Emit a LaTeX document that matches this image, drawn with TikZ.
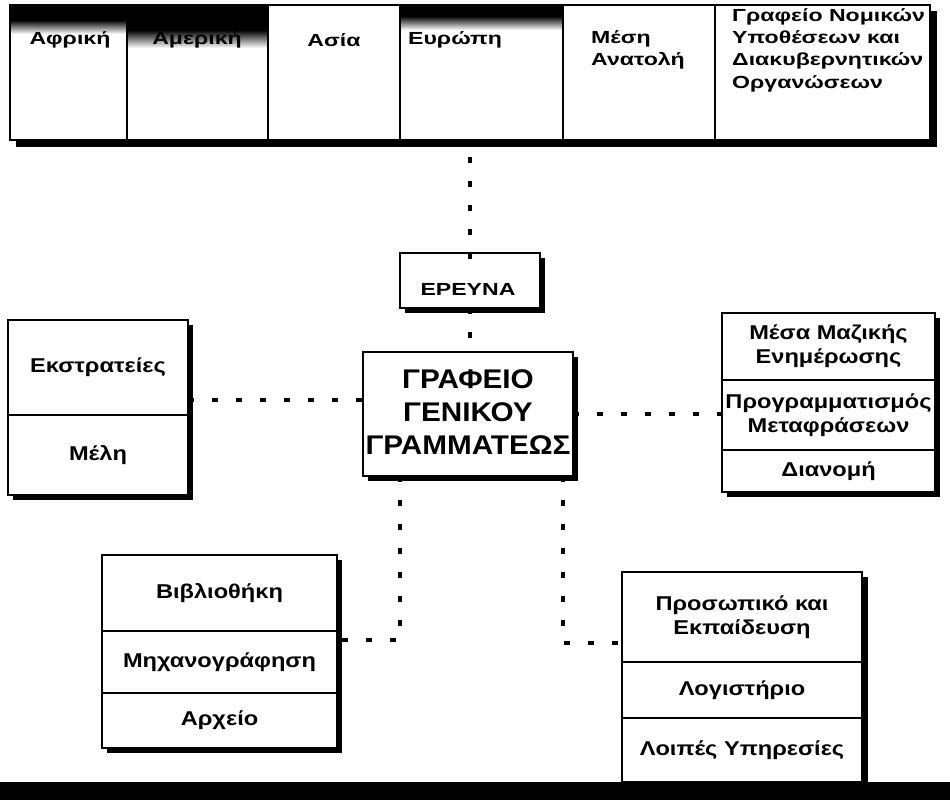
\documentclass[tikz,border=0pt]{standalone}
\usepackage{fontspec}
\setmainfont{Liberation Sans}
\newfontfamily\topfont{Liberation Sans}[FakeStretch=1.32]
\newfontfamily\secfont{Liberation Sans}[FakeStretch=1.18]
\newfontfamily\bigfont{Liberation Sans}[FakeStretch=1.1]
\usetikzlibrary{calc}
\begin{document}
\begin{tikzpicture}[x=1pt,y=-1pt,
  sec/.style={draw, line width=2.5pt, fill=white, anchor=north west, inner sep=0pt, outer sep=0pt,
    align=center, font=\secfont\bfseries\fontsize{20}{24}\selectfont},
  cellbox/.style={draw, line width=2.5pt, anchor=north west, inner sep=0pt, outer sep=0pt},
  toplbl/.style={font=\topfont\bfseries\fontsize{17.5}{22.3}\selectfont, inner sep=0pt},
  biglbl/.style={font=\bigfont\bfseries\fontsize{27}{33}\selectfont, align=center, inner sep=0pt},
  conn/.style={line width=3.5pt, dash pattern=on 6pt off 18pt},
  shadowfill/.style={fill=black}]
\useasboundingbox (0,0) rectangle (950,800);

% ---------- top row ----------
\fill[shadowfill] (16,11) rectangle (937,147);
\fill[white] (10,5) rectangle (930,140);
\fill[black] (10,5) rectangle (127,20);
\shade[top color=black, bottom color=white] (10,20) rectangle (127,34);
\fill[black] (127,5) rectangle (268,30);
\shade[top color=black, bottom color=white] (127,30) rectangle (268,48);
\fill[black] (400,5) rectangle (563,16);
\shade[top color=black, bottom color=white] (400,16) rectangle (563,30);
\node[cellbox, minimum width=117pt, minimum height=135pt] (c1) at (10,5) {};
\node[cellbox, minimum width=141pt, minimum height=135pt] (c2) at (c1.north east) {};
\node[cellbox, minimum width=132pt, minimum height=135pt] (c3) at (c2.north east) {};
\node[cellbox, minimum width=163pt, minimum height=135pt] (c4) at (c3.north east) {};
\node[cellbox, minimum width=152pt, minimum height=135pt] (c5) at (c4.north east) {};
\node[cellbox, minimum width=215pt, minimum height=135pt] (c6) at (c5.north east) {};
\node[toplbl] (t1) at (70,40) {Αφρική};
\node[toplbl] (t2) at (197,40) {Αμερική};
\node[toplbl] (t3) at (334,40) {Ασία};
\node[toplbl] (t4) at (455,40) {Ευρώπη};
\node[toplbl, align=left, anchor=west] (t5) at (591,50) {Μέση\\Ανατολή};
\node[toplbl, align=left, anchor=west] (t6) at (732,50) {Γραφείο Νομικών\\Υποθέσεων και\\Διακυβερνητικών\\Οργανώσεων};

% ---------- ΕΡΕΥΝΑ ----------
\fill[shadowfill] (405,258) rectangle (545,313);
\node[sec, minimum width=140pt, minimum height=55pt] (ereuna) at (400,253) {};
\node[toplbl] (ereunat) at (468,289) {ΕΡΕΥΝΑ};

% ---------- central ----------
\fill[shadowfill] (368,357) rectangle (578,481);
\node[sec, minimum width=210pt, minimum height=124pt] (gg) at (363,352) {};
\node[biglbl] (ggt) at (468,412) {ΓΡΑΦΕΙΟ\\ΓΕΝΙΚΟΥ\\ΓΡΑΜΜΑΤΕΩΣ};

% ---------- left ----------
\fill[shadowfill] (13,325) rectangle (193,500);
\node[sec, minimum width=180pt, minimum height=95pt] (l1) at (8,320) {Εκστρατείες};
\node[sec, minimum width=180pt, minimum height=80pt] (l2) at (l1.south west) {Μέλη};

% ---------- right ----------
\fill[shadowfill] (727,318) rectangle (940,497);
\node[sec, minimum width=213pt, minimum height=67pt] (r1) at (722,313) {Μέσα Μαζικής\\Ενημέρωσης};
\node[sec, minimum width=213pt, minimum height=70pt] (r2) at (r1.south west) {Προγραμματισμός\\Μεταφράσεων};
\node[sec, minimum width=213pt, minimum height=42pt] (r3) at (r2.south west) {Διανομή};

% ---------- bottom left ----------
\fill[shadowfill] (107,560) rectangle (342,753);
\node[sec, minimum width=235pt, minimum height=76pt] (b1) at (102,555) {Βιβλιοθήκη};
\node[sec, minimum width=235pt, minimum height=62pt] (b2) at (b1.south west) {Μηχανογράφηση};
\node[sec, minimum width=235pt, minimum height=55pt] (b3) at (b2.south west) {Αρχείο};

% ---------- bottom right ----------
\fill[shadowfill] (627,577) rectangle (868,782);
\node[sec, minimum width=240pt, minimum height=90pt] (p1) at (622,572) {Προσωπικό και\\Εκπαίδευση};
\node[sec, minimum width=240pt, minimum height=56pt] (p2) at (p1.south west) {Λογιστήριο};
\node[sec, minimum width=240pt, minimum height=64pt] (p3) at (p2.south west) {Λοιπές Υπηρεσίες};

% ---------- bottom bar ----------
\fill[black] (0,782) rectangle (950,800);

% ---------- connectors ----------
\draw[conn] ([yshift=-6pt]ereuna.north) -- (ereuna.north |- c4.south);
\draw[conn] (ereuna.south) -- (ereuna.south |- gg.north);
\draw[conn] ([yshift=-80pt]l1.north east) -- ([yshift=-80pt]l1.north east -| gg.west);
\draw[conn] (gg.east) -- (gg.east -| r2.west);
\draw[conn] ([xshift=-68pt]gg.south) |- ([yshift=-9pt]b2.north east);
\draw[conn] ([xshift=95pt]gg.south) |- ([yshift=-71pt]p1.north west);
\end{tikzpicture}
\end{document}
